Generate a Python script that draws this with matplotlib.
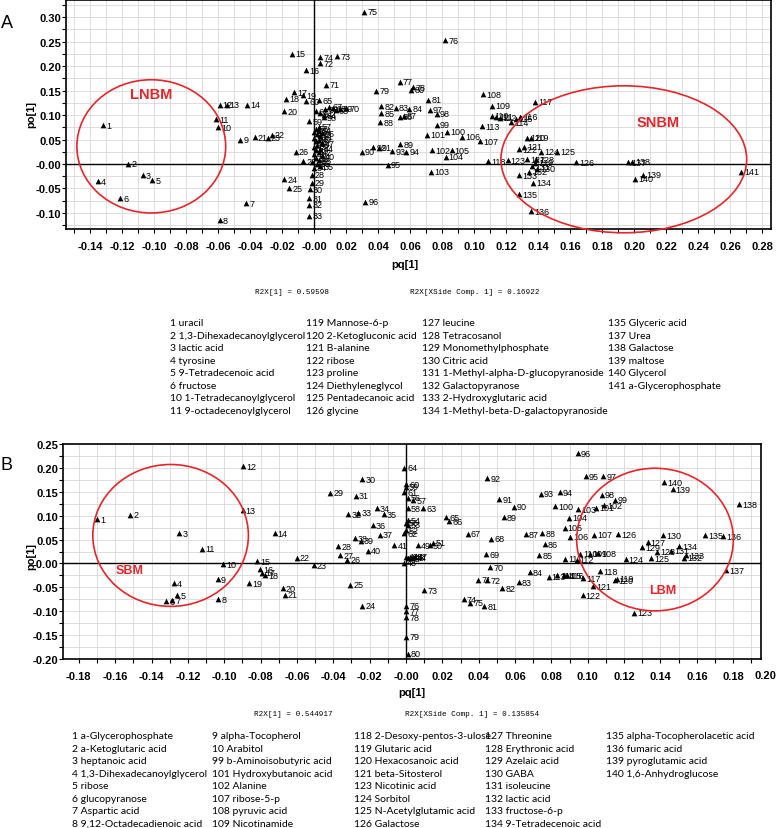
import matplotlib
matplotlib.use('Agg')
import matplotlib.pyplot as plt
from matplotlib.patches import Ellipse
from matplotlib.ticker import MultipleLocator, FuncFormatter

# ---------------- panel A data ----------------
a_ids = [1, 2, 3, 4, 5, 6, 7, 8, 9, 10, 11, 12, 13, 14, 15, 16, 17, 18, 19, 20,
         21, 22, 23, 24, 25, 26, 27, 28, 29, 30, 31, 32, 33,
         34, 35, 36, 37, 38, 39, 40, 41, 42, 43, 44, 45, 46, 47, 48, 49, 50,
         51, 52, 53, 54, 55, 56, 57, 58, 59, 60, 61, 62, 63, 64, 65, 66, 67, 68, 69, 70,
         71, 72, 73, 74, 75, 76, 77, 78, 79, 80, 81, 82, 83, 84, 85, 86, 87, 88, 89, 90,
         91, 92, 93, 94, 95, 96, 97, 98, 99, 100, 101, 102, 103, 104, 105, 106, 107, 108, 109, 110,
         111, 112, 113, 114, 115, 116, 117, 118, 119, 120, 121, 122, 123, 124, 125, 126, 127, 128, 129, 130,
         131, 132, 133, 134, 135, 136, 137, 138, 139, 140, 141]
a_x = [-0.132, -0.116, -0.107, -0.135, -0.101, -0.121, -0.0425, -0.059, -0.046, -0.060,
       -0.061, -0.059, -0.0546, -0.042, -0.0135, -0.005, -0.0123, -0.0173, -0.007, -0.0186,
       -0.037, -0.0264, -0.029, -0.0186, -0.0156, -0.0113, -0.0067, -0.0015, -0.0015, -0.0025,
       -0.003, -0.003, -0.003,
       0.000, 0.004, 0.002, -0.001, 0.003, 0.001, 0.005, 0.000, 0.003, 0.001,
       0.004, 0.000, 0.002, 0.005, 0.001, 0.003, 0.000, 0.004, 0.002, 0.000,
       0.003, 0.005, 0.001, 0.003, 0.006, -0.003, -0.0048, 0.004, 0.001, 0.0135,
       0.006, 0.0033, 0.007, 0.0096, 0.012, 0.016, 0.020,
       0.0077, 0.004, 0.0146, 0.004, 0.03125, 0.082, 0.0535, 0.0617, 0.039, 0.0608,
       0.0715, 0.042, 0.051, 0.0596, 0.042, 0.0535, 0.056, 0.0415, 0.054, 0.0298,
       0.0406, 0.037, 0.049, 0.0577, 0.046, 0.032, 0.0725, 0.0767, 0.0767, 0.083,
       0.0706, 0.074, 0.073, 0.0823, 0.086, 0.0927, 0.104, 0.1058, 0.1115, 0.111,
       0.114, 0.116, 0.105, 0.123, 0.126, 0.129, 0.138, 0.109, 0.1356, 0.133,
       0.1315, 0.128, 0.121, 0.142, 0.152, 0.164, 0.133, 0.1386, 0.138, 0.1395,
       0.1365, 0.1344, 0.128, 0.137, 0.1283, 0.1356, 0.1965, 0.199, 0.2056, 0.2008,
       0.267]
a_y = [0.079, 0.000, -0.023, -0.035, -0.033, -0.070, -0.0805, -0.115, 0.050, 0.075,
       0.091, 0.121, 0.121, 0.121, 0.225, 0.191, 0.146, 0.133, 0.140, 0.108,
       0.055, 0.060, 0.0536, -0.031, -0.049, 0.025, 0.006, -0.022, -0.038, -0.0514,
       -0.070, -0.083, -0.106,
       -0.008, -0.005, 0.000, 0.004, 0.008, 0.012, 0.016, 0.020, 0.024, 0.028,
       0.031, 0.035, 0.039, 0.042, 0.046, 0.050, 0.054, 0.057, 0.061, 0.065,
       0.068, 0.063, 0.072, 0.076, 0.095, 0.087, 0.128, 0.104, 0.108, 0.110,
       0.100, 0.130, 0.112, 0.117, 0.114, 0.113, 0.114,
       0.162, 0.206, 0.2195, 0.218, 0.311, 0.253, 0.168, 0.157, 0.150, 0.152,
       0.131, 0.118, 0.115, 0.1125, 0.104, 0.096, 0.098, 0.085, 0.0407, 0.0245,
       0.033, 0.0345, 0.0265, 0.0245, -0.002, -0.077, 0.111, 0.103, 0.080, 0.066,
       0.060, 0.0285, -0.0155, 0.015, 0.0285, 0.0557, 0.046, 0.142, 0.119, 0.099,
       0.096, 0.094, 0.077, 0.085, 0.092, 0.096, 0.127, 0.006, 0.054, 0.054,
       0.035, 0.030, 0.0075, 0.0245, 0.0245, 0.0035, 0.010, 0.0096, 0.003, -0.010,
       -0.005, -0.016, -0.023, -0.038, -0.0616, -0.096, 0.0035, 0.005, -0.022, -0.030,
       -0.016]

a_ticks_x = [-0.14, -0.12, -0.10, -0.08, -0.06, -0.04, -0.02, 0.00, 0.02, 0.04, 0.06,
             0.08, 0.10, 0.12, 0.14, 0.16, 0.18, 0.20, 0.22, 0.24, 0.26, 0.28]
a_ticks_y = [-0.10, -0.05, 0.00, 0.05, 0.10, 0.15, 0.20, 0.25, 0.30]

a_legend = [
    ["1 uracil", "2 1,3-Dihexadecanoylglycerol", "3 lactic acid", "4 tyrosine",
     "5 9-Tetradecenoic acid", "6 fructose", "10 1-Tetradecanoylglycerol",
     "11 9-octadecenoylglycerol"],
    ["119 Mannose-6-p", "120 2-Ketogluconic acid", "121 B-alanine", "122 ribose",
     "123 proline", "124 Diethyleneglycol", "125 Pentadecanoic acid", "126 glycine"],
    ["127 leucine", "128 Tetracosanol", "129 Monomethylphosphate", "130 Citric acid",
     "131 1-Methyl-alpha-D-glucopyranoside", "132 Galactopyranose",
     "133 2-Hydroxyglutaric acid", "134 1-Methyl-beta-D-galactopyranoside"],
    ["135 Glyceric acid", "137 Urea", "138 Galactose", "139 maltose", "140 Glycerol",
     "141 a-Glycerophosphate"],
]

# ---------------- panel B data ----------------
b_ids = [1, 2, 3, 4, 5, 6, 7, 8, 9, 10, 11, 12, 13, 14, 15, 16, 17, 18, 19, 20,
         21, 22, 23, 24, 25, 26, 27, 28, 29, 30, 31, 32, 33, 34, 35, 36, 37, 38, 39, 40,
         41, 42, 43, 44, 45, 46, 47, 48, 49, 50, 51, 52, 53, 54, 55, 56, 57, 58, 59, 60,
         61, 62, 63, 64, 65, 66, 67, 68, 69, 70, 71, 72, 73, 74, 75, 76, 77, 78, 79, 80,
         81, 82, 83, 84, 85, 86, 87, 88, 89, 90, 91, 92, 93, 94, 95, 96, 97, 98, 99, 100,
         101, 102, 103, 104, 105, 106, 107, 108, 109, 110, 111, 112, 113, 114, 115, 116, 117, 118, 119, 120,
         121, 122, 123, 124, 125, 126, 127, 128, 129, 130, 131, 132, 133, 134, 135, 136, 137, 138, 139, 140]
b_x = [-0.170, -0.1518, -0.1247, -0.1278, -0.1258, -0.1318, -0.1287, -0.1032, -0.1036, -0.1005,
       -0.1122, -0.0895, -0.0898, -0.0722, -0.0818, -0.0803, -0.079, -0.0776, -0.0862, -0.0678,
       -0.0667, -0.0601, -0.0508, -0.0242, -0.0306, -0.0323, -0.0363, -0.0374, -0.0418, -0.024,
       -0.0277, -0.0317, -0.0262, -0.0161, -0.0121, -0.0182, -0.0143, -0.0281, -0.0249, -0.0209,
       -0.0064, 0.000, 0.002, 0.004, 0.001, 0.003, 0.005, -0.001, 0.0066, 0.0132,
       0.0147, 0.000, 0.001, 0.001, 0.000, 0.001, 0.004, 0.001, 0.000, 0.000,
       -0.001, -0.001, 0.0096, -0.001, 0.0222, 0.0237, 0.034, 0.0468, 0.044, 0.0462,
       0.0396, 0.0446, 0.0101, 0.0317, 0.0354, 0.000, 0.000, 0.000, 0.000, 0.001,
       0.0431, 0.053, 0.0622, 0.0682, 0.0733, 0.0765, 0.0658, 0.075, 0.0539, 0.0594,
       0.0513, 0.0447, 0.0743, 0.0847, 0.099, 0.0944, 0.1085, 0.1076, 0.1148, 0.082,
       0.1045, 0.1089, 0.0948, 0.0898, 0.0873, 0.0902, 0.1034, 0.1058, 0.101, 0.0957,
       0.0875, 0.0939, 0.0785, 0.0832, 0.0869, 0.0884, 0.0975, 0.1067, 0.1159, 0.115,
       0.103, 0.0972, 0.1254, 0.1208, 0.1348, 0.1166, 0.133, 0.138, 0.130, 0.1414,
       0.146, 0.153, 0.154, 0.1503, 0.1646, 0.1745, 0.176, 0.1832, 0.1467, 0.1419]
b_y = [0.092, 0.102, 0.0636, -0.041, -0.067, -0.0795, -0.0766, -0.0753, -0.0335, -0.002,
       0.031, 0.203, 0.111, 0.0636, 0.005, -0.0126, -0.0195, -0.025, -0.041, -0.0515,
       -0.065, 0.012, -0.0034, -0.089, -0.0446, 0.0077, 0.0176, 0.0356, 0.148, 0.1757,
       0.1416, 0.1033, 0.106, 0.116, 0.1033, 0.0795, 0.060, 0.053, 0.047, 0.027,
       0.0385, 0.014, 0.014, 0.013, 0.011, 0.012, 0.014, 0.001, 0.0377, 0.0377,
       0.043, 0.069, 0.081, 0.090, 0.085, 0.137, 0.132, 0.116, 0.161, 0.166,
       0.149, 0.0636, 0.116, 0.200, 0.097, 0.088, 0.062, 0.0517, 0.019, -0.0075,
       -0.034, -0.0355, -0.0565, -0.0745, -0.082, -0.089, -0.100, -0.113, -0.153, -0.189,
       -0.090, -0.0515, -0.039, -0.018, 0.0167, 0.040, 0.0615, 0.0628, 0.097, 0.1186,
       0.134, 0.1787, 0.146, 0.1485, 0.183, 0.231, 0.183, 0.1437, 0.133, 0.120,
       0.117, 0.1213, 0.113, 0.0956, 0.075, 0.0558, 0.060, 0.0218, 0.0203, 0.0203,
       0.0098, 0.0077, -0.028, -0.025, -0.025, -0.025, -0.0306, -0.0167, -0.032, -0.0355,
       -0.048, -0.067, -0.103, 0.009, 0.011, 0.0607, 0.0447, 0.025, 0.0335, 0.0594,
       0.027, 0.012, 0.0167, 0.036, 0.0594, 0.0565, -0.0146, 0.1243, 0.1556, 0.170]

b_ticks_x = [-0.18, -0.16, -0.14, -0.12, -0.10, -0.08, -0.06, -0.04, -0.02, 0.00, 0.02,
             0.04, 0.06, 0.08, 0.10, 0.12, 0.14, 0.16, 0.18]
b_ticks_y = [-0.20, -0.15, -0.10, -0.05, 0.00, 0.05, 0.10, 0.15, 0.20, 0.25]

b_legend = [
    ["1 a-Glycerophosphate", "2 a-Ketoglutaric acid", "3 heptanoic acid",
     "4 1,3-Dihexadecanoylglycerol", "5 ribose", "6 glucopyranose", "7 Aspartic acid",
     "8 9,12-Octadecadienoic acid"],
    ["9 alpha-Tocopherol", "10 Arabitol", "99 b-Aminoisobutyric acid",
     "101 Hydroxybutanoic acid", "102 Alanine", "107 ribose-5-p", "108 pyruvic acid",
     "109 Nicotinamide"],
    ["118 2-Desoxy-pentos-3-ulose", "119 Glutaric acid", "120 Hexacosanoic acid",
     "121 beta-Sitosterol", "123 Nicotinic acid", "124 Sorbitol",
     "125 N-Acetylglutamic acid", "126 Galactose"],
    ["127 Threonine", "128 Erythronic acid", "129 Azelaic acid", "130 GABA",
     "131 isoleucine", "132 lactic acid", "133 fructose-6-p", "134 9-Tetradecenoic acid"],
    ["135 alpha-Tocopherolacetic acid", "136 fumaric acid", "139 pyroglutamic acid",
     "140 1,6-Anhydroglucose"],
]

W, H = 778, 829
RED = '#e3262b'
SANS = ['Liberation Sans', 'DejaVu Sans']
LEG = ['Lato', 'DejaVu Sans']

fig = plt.figure(figsize=(W / 100, H / 100), dpi=100)


def box(l, t, r, b):
    return [l / W, 1 - b / H, (r - l) / W, (b - t) / H]


def ftext(px, py, s, **kw):
    fig.text(px / W, 1 - py / H, s, **kw)


def fmt(v, p):
    if abs(v) < 1e-9:
        return '-0.00'
    return '%.2f' % v


def style(ax, xt, yt, xlim, ylim):
    ax.set_xlim(*xlim)
    ax.set_ylim(*ylim)
    ax.set_xticks(xt)
    ax.set_yticks(yt)
    ax.xaxis.set_minor_locator(MultipleLocator(0.01))
    ax.yaxis.set_minor_locator(MultipleLocator(0.025))
    ax.xaxis.set_major_formatter(FuncFormatter(fmt))
    ax.yaxis.set_major_formatter(FuncFormatter(fmt))
    ax.grid(which='both', color='#d8d8d8', lw=0.6)
    ax.set_axisbelow(True)
    ax.tick_params(which='both', direction='out', length=3, width=0.8)
    ax.tick_params(axis='x', which='major', pad=6)
    ax.tick_params(axis='y', which='major', pad=0.5)
    for lab in ax.get_xticklabels() + ax.get_yticklabels():
        lab.set_fontweight('bold')
        lab.set_fontsize(8)
        lab.set_family(SANS)
    for sp in ax.spines.values():
        sp.set_linewidth(1.2)
    ax.axhline(0, color='black', lw=1.0, zorder=1)
    ax.axvline(0, color='black', lw=1.0, zorder=1)


def points(ax, ids, xs, ys):
    ax.scatter(xs, ys, marker='^', s=17, color='black', zorder=3, linewidths=0)
    for i, x, y in zip(ids, xs, ys):
        ax.annotate(str(i), (x, y), xytext=(2.2, 0), textcoords='offset points',
                    fontsize=6.5, va='center', ha='left', family=SANS, zorder=4)


# ---------------- panel A ----------------
axA = fig.add_axes(box(66, 1, 771, 230))
style(axA, a_ticks_x, a_ticks_y, (-0.155, 0.2856), (-0.1327, 0.3348))
points(axA, a_ids, a_x, a_y)
axA.add_patch(Ellipse((-0.1017, 0.036), 0.093, 0.272, fill=False, ec=RED, lw=1.2, zorder=5))
axA.add_patch(Ellipse((0.1936, 0.0096), 0.1536, 0.300, fill=False, ec=RED, lw=1.2,
                      zorder=5, clip_on=False))
axA.text(-0.102, 0.142, 'LNBM', color=RED, fontsize=10.5, fontweight='bold',
         ha='center', va='center', family=SANS)
axA.text(0.215, 0.085, 'SNBM', color=RED, fontsize=10.5, fontweight='bold',
         ha='center', va='center', family=SANS)

ftext(6.5, 24, 'A', fontsize=13, ha='center', va='center', family=SANS)
ftext(31.7, 115, 'po[1]', fontsize=8, fontweight='bold', rotation=90,
      ha='center', va='center', family=SANS)
ftext(405, 265, 'pq[1]', fontsize=8, fontweight='bold', ha='center', va='center', family=SANS)
ftext(255, 293, 'R2X[1] = 0.59598', fontsize=5.5, family='Liberation Mono', va='center')
ftext(410, 293, 'R2X[XSide Comp. 1] = 0.16922', fontsize=5.5, family='Liberation Mono',
      va='center')

a_cols = [170, 306, 421.5, 607.5]
for cx, col in zip(a_cols, a_legend):
    for r, s in enumerate(col):
        ftext(cx, 324 + 12.5 * r, s, fontsize=7.5, family=LEG, va='center')

# ---------------- panel B ----------------
axB = fig.add_axes(box(63, 445, 761, 660))
style(axB, b_ticks_x, b_ticks_y, (-0.1887, 0.1953), (-0.20, 0.25))
points(axB, b_ids, b_x, b_y)
axB.add_patch(Ellipse((-0.1295, 0.0586), 0.0856, 0.297, fill=False, ec=RED, lw=1.2, zorder=5))
axB.add_patch(Ellipse((0.137, 0.050), 0.0862, 0.2985, fill=False, ec=RED, lw=1.2, zorder=5))
axB.text(-0.152, -0.0146, 'SBM', color=RED, fontsize=9, fontweight='bold',
         ha='center', va='center', family=SANS)
axB.text(0.141, -0.055, 'LBM', color=RED, fontsize=9, fontweight='bold',
         ha='center', va='center', family=SANS)

# the 0.20 label of panel B sits just past the right frame
ftext(776, 676, '0.20', fontsize=8, fontweight='bold', ha='right', va='center', family=SANS)

ftext(6.7, 466, 'B', fontsize=13, ha='center', va='center', family=SANS)
ftext(31.7, 556, 'po[1]', fontsize=8, fontweight='bold', rotation=90,
      ha='center', va='center', family=SANS)
ftext(412, 693, 'pq[1]', fontsize=8, fontweight='bold', ha='center', va='center', family=SANS)
ftext(254, 715, 'R2X[1] = 0.544917', fontsize=5.5, family='Liberation Mono', va='center')
ftext(405, 715, 'R2X[XSide Comp. 1] = 0.135854', fontsize=5.5, family='Liberation Mono',
      va='center')

b_cols = [72, 212, 354, 485, 606.5]
for cx, col in zip(b_cols, b_legend):
    for r, s in enumerate(col):
        ftext(cx, 737 + 12.5 * r, s, fontsize=7.5, family=LEG, va='center')

fig.savefig('out.png', dpi=100)
